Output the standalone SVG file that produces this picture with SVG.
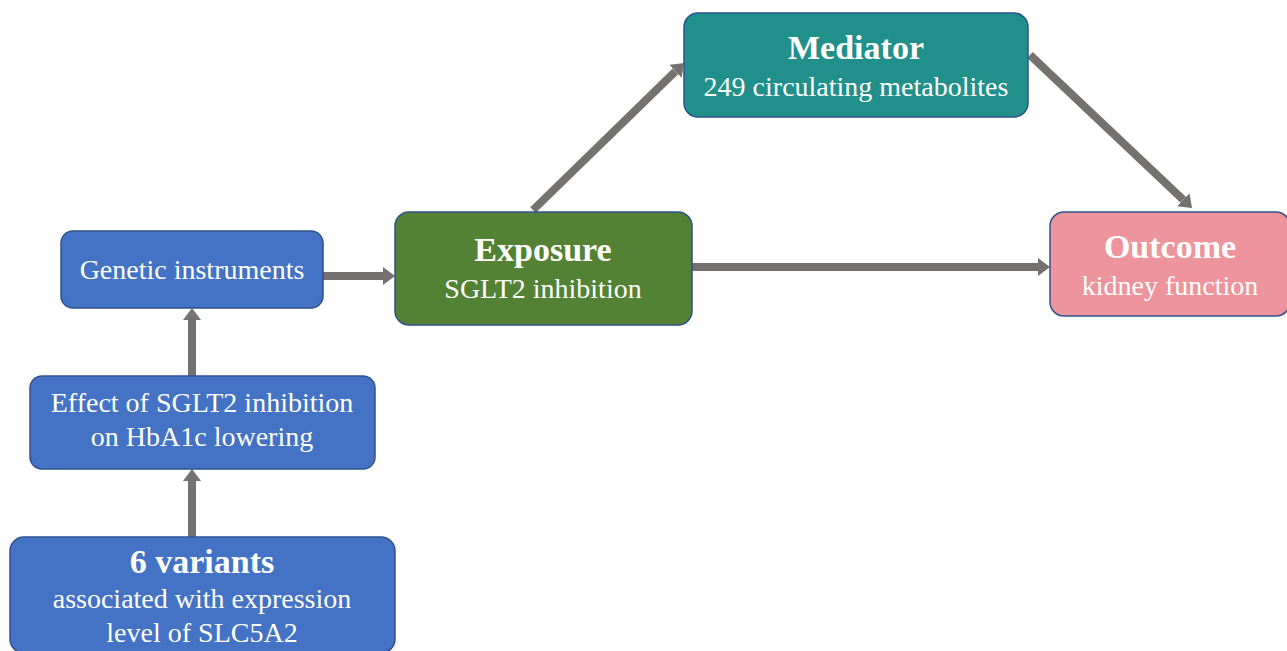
<svg xmlns="http://www.w3.org/2000/svg" width="1287" height="651" viewBox="0 0 1287 651">
<style>
.box{stroke-width:1.5}
.blue{fill:#4472C4;stroke:#2F528F}
.t{font-family:"Liberation Serif","Times New Roman",serif;fill:#fff;text-anchor:middle;font-size:28px}
.b{font-weight:bold;font-size:34px}
.c{stroke:#767171;stroke-width:8;fill:none}
</style>
<defs>
<marker id="ah" markerUnits="userSpaceOnUse" markerWidth="14" markerHeight="18" refX="0" refY="9" orient="auto">
<path d="M0,0 L12,9 L0,18 Z" fill="#767171"/>
</marker>
</defs>
<rect width="1287" height="651" fill="#fff"/>
<g id="connectors">
<line class="c" x1="323" y1="276" x2="383" y2="276" marker-end="url(#ah)"/>
<line class="c" x1="192" y1="376" x2="192" y2="320" marker-end="url(#ah)"/>
<line class="c" x1="192" y1="537" x2="192" y2="481" marker-end="url(#ah)"/>
<line class="c" x1="533" y1="210" x2="675.4" y2="71.4" marker-end="url(#ah)"/>
<line class="c" x1="1030" y1="55" x2="1183.3" y2="199.8" marker-end="url(#ah)"/>
<line class="c" x1="692" y1="267" x2="1038" y2="267" marker-end="url(#ah)"/>
</g>
<g id="genetic">
<rect class="box blue" x="61" y="231" width="262" height="77" rx="12"/>
<text class="t" x="192" y="279">Genetic instruments</text>
</g>
<g id="effect">
<rect class="box blue" x="30" y="376" width="345" height="93" rx="12"/>
<text class="t" x="202" y="412">Effect of SGLT2 inhibition</text>
<text class="t" x="202" y="446">on HbA1c lowering</text>
</g>
<g id="variants">
<rect class="box blue" x="10" y="537" width="385" height="116" rx="14"/>
<text class="t b" x="202" y="573">6 variants</text>
<text class="t" x="202" y="608">associated with expression</text>
<text class="t" x="202" y="642">level of SLC5A2</text>
</g>
<g id="exposure">
<rect class="box" x="395" y="212" width="297" height="113" rx="14" fill="#548235" stroke="#2F528F"/>
<text class="t b" x="543" y="261">Exposure</text>
<text class="t" x="543" y="298">SGLT2 inhibition</text>
</g>
<g id="mediator">
<rect class="box" x="684" y="13" width="344" height="104" rx="14" fill="#21908A" stroke="#2F528F"/>
<text class="t b" x="856" y="59">Mediator</text>
<text class="t" x="856" y="96">249 circulating metabolites</text>
</g>
<g id="outcome">
<rect class="box" x="1050" y="212" width="240" height="104" rx="14" fill="#ED949C" stroke="#2F528F"/>
<text class="t b" x="1170" y="258">Outcome</text>
<text class="t" x="1170" y="295">kidney function</text>
</g>
</svg>
